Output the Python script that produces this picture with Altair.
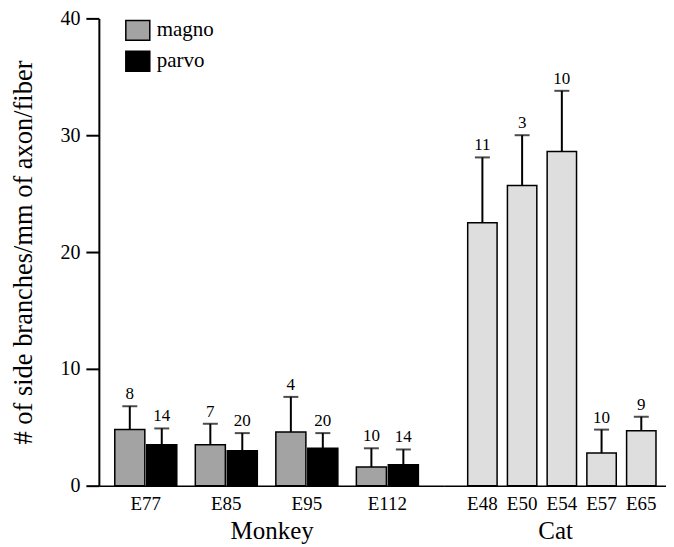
import altair as alt
import pandas as pd

# ---- data ----
monkey_ages = ["E77", "E85", "E95", "E112"]
magno_mean = [4.8, 3.5, 4.6, 1.6]
magno_top = [6.8, 5.3, 7.6, 3.2]
magno_n = [8, 7, 4, 10]
parvo_mean = [3.5, 3.0, 3.2, 1.8]
parvo_top = [4.9, 4.5, 4.5, 3.1]
parvo_n = [14, 20, 20, 14]

cat_ages = ["E48", "E50", "E54", "E57", "E65"]
cat_mean = [22.5, 25.7, 28.6, 2.8, 4.7]
cat_top = [28.1, 30.0, 33.8, 4.8, 5.9]
cat_n = [11, 3, 10, 10, 9]

series = ["magno", "parvo"]
y_ticks = [0, 10, 20, 30, 40]

FONT = "Liberation Serif"

rows = []
for i, a in enumerate(monkey_ages):
    rows.append(dict(age=a, type="magno", mean=magno_mean[i], top=magno_top[i], n=str(magno_n[i])))
    rows.append(dict(age=a, type="parvo", mean=parvo_mean[i], top=parvo_top[i], n=str(parvo_n[i])))
mdf = pd.DataFrame(rows)
cdf = pd.DataFrame(dict(age=cat_ages, mean=cat_mean, top=cat_top, n=[str(v) for v in cat_n]))

yscale = alt.Scale(domain=[0, 40], nice=False)

def xaxis():
    return alt.Axis(labelAngle=0, ticks=False, labelPadding=9, titlePadding=5,
                    labelFont=FONT, titleFont=FONT,
                    labelFontSize=19, titleFontSize=25, titleFontWeight="normal",
                    domainColor="black", domainWidth=1.5, labelColor="black", titleColor="black")

mx = alt.X("age:N", sort=monkey_ages, title="Monkey",
           scale=alt.Scale(paddingInner=0.23, paddingOuter=0.26, align=0.38), axis=xaxis())
mxo = alt.XOffset("type:N", sort=series, scale=alt.Scale(paddingInner=0.06, paddingOuter=0))
my_axis = alt.Axis(values=y_ticks, tickSize=13, tickWidth=2, tickColor="black", domainWidth=2,
                   domainColor="black", labelFontSize=20, labelPadding=6, labelColor="black",
                   labelFont=FONT, titleFont=FONT,
                   title="# of side branches/mm of axon/fiber", titleFontSize=26.5,
                   titleFontWeight="normal", titleColor="black", titlePadding=22, grid=False)

color = alt.Color("type:N", sort=series,
                  scale=alt.Scale(domain=series, range=["#a3a3a3", "#000000"]),
                  legend=alt.Legend(title=None, orient="none", legendX=28, legendY=1,
                                    symbolType="M-1.2,-1H1.2V1H-1.2Z", symbolSize=400,
                                    symbolStrokeColor="black", symbolStrokeWidth=1.5,
                                    labelFontSize=21, labelColor="black", labelOffset=8,
                                    rowPadding=5, labelFont=FONT))

mbase = alt.Chart(mdf)
mbars = mbase.mark_bar(stroke="black", strokeWidth=1.5).encode(
    x=mx, xOffset=mxo, y=alt.Y("mean:Q", scale=yscale, axis=my_axis), color=color)
merr = mbase.mark_rule(color="black", strokeWidth=2).encode(
    x=mx, xOffset=mxo, y=alt.Y("mean:Q", scale=yscale), y2="top:Q")
mcap = mbase.mark_tick(color="black", thickness=2, size=15, orient="horizontal").encode(
    x=mx, xOffset=mxo, y=alt.Y("top:Q", scale=yscale))
mtxt = mbase.mark_text(baseline="bottom", dy=-3, fontSize=17, font=FONT, color="black").encode(
    x=mx, xOffset=mxo, y=alt.Y("top:Q", scale=yscale), text="n:N")
monkey = alt.layer(mbars, merr, mcap, mtxt).properties(width=346, height=468)

cx = alt.X("age:N", sort=cat_ages, title="Cat",
           scale=alt.Scale(paddingInner=0.26, paddingOuter=0.42, align=0.70), axis=xaxis())
cbase = alt.Chart(cdf)
cbars = cbase.mark_bar(stroke="black", strokeWidth=1.5, color="#dedede").encode(
    x=cx, y=alt.Y("mean:Q", scale=yscale, axis=None))
cerr = cbase.mark_rule(color="black", strokeWidth=2).encode(
    x=cx, y=alt.Y("mean:Q", scale=yscale), y2="top:Q")
ccap = cbase.mark_tick(color="black", thickness=2, size=15, orient="horizontal").encode(
    x=cx, y=alt.Y("top:Q", scale=yscale))
ctxt = cbase.mark_text(baseline="bottom", dy=-3, fontSize=17, font=FONT, color="black").encode(
    x=cx, y=alt.Y("top:Q", scale=yscale), text="n:N")
cat = alt.layer(cbars, cerr, ccap, ctxt).properties(width=222, height=468)

chart = alt.hconcat(monkey, cat, spacing=0).properties(
    padding={"left": 3, "top": 0, "right": 0, "bottom": 0}
).configure(font=FONT).configure_view(stroke=None).configure_text(font=FONT).configure_legend(labelFont=FONT)

chart.save("out.html", embed_options={"renderer": "svg", "actions": False})
